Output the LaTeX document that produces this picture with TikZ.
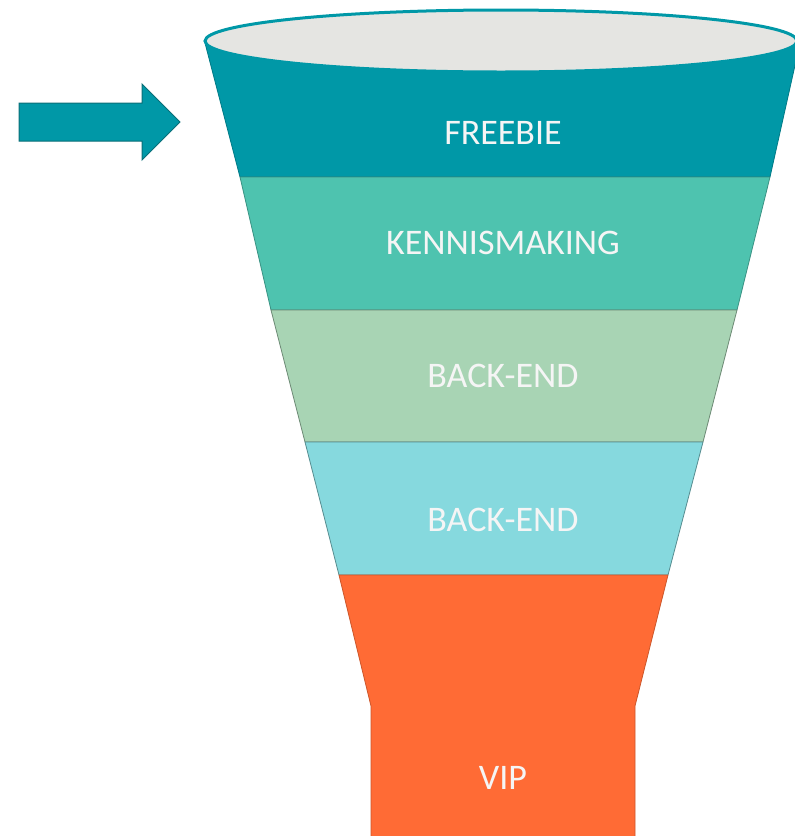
\documentclass[tikz,border=0pt]{standalone}
\usepackage{fontspec}
\setmainfont{Carlito}
\definecolor{tealA}{HTML}{0098A7}
\definecolor{tealEdge}{HTML}{0B6F78}
\definecolor{rimFill}{HTML}{E5E5E2}
\definecolor{mintB}{HTML}{4EC3AF}
\definecolor{sageC}{HTML}{A8D4B4}
\definecolor{aquaD}{HTML}{86D9DE}
\definecolor{orangeE}{HTML}{FF6B35}
\tikzset{
  band/.style={line width=0.8pt, line join=round},
  label/.style={text=white!96!black, font=\fontsize{36}{40}\selectfont, inner sep=0pt}
}
\begin{document}
\begin{tikzpicture}[x=1pt,y=-1pt]
\useasboundingbox (0,0) rectangle (795,836);
% bands
\path[band, fill=tealA, draw=tealA!80!black] (205,43) -- (800,43) -- (770,177) -- (240,177) -- cycle;
\path[band, fill=mintB, draw=mintB!75!black] (240,177) -- (770,177) -- (737,310) -- (271,310) -- cycle;
\path[band, fill=sageC, draw=sageC!65!black] (271,310) -- (737,310) -- (703,442) -- (305,442) -- cycle;
\path[band, fill=aquaD, draw=aquaD!65!black] (305,442) -- (703,442) -- (668,575) -- (339,575) -- cycle;
\path[band, fill=orangeE, draw=orangeE!80!black] (339,575) -- (668,575) -- (635,706) -- (635,840) -- (371,840) -- (371,706) -- cycle;
% rim
\path[fill=rimFill, draw=tealA, line width=3pt] (501,41) ellipse [x radius=296, y radius=31];
% arrow
\path[fill=tealA, draw=tealEdge, line width=1pt, line join=miter]
  (19,103) -- (142,103) -- (142,84) -- (180,122) -- (142,160) -- (142,141) -- (19,141) -- cycle;
% labels
\node[label] (freebie) at (503,133) {FREEBIE};
\node[label] (kennis) at (503,243) {KENNISMAKING};
\node[label] (back1) at (503,376) {BACK-END};
\node[label] (back2) at (503,520) {BACK-END};
\node[label] (vip) at (503,778) {VIP};
\end{tikzpicture}
\end{document}
